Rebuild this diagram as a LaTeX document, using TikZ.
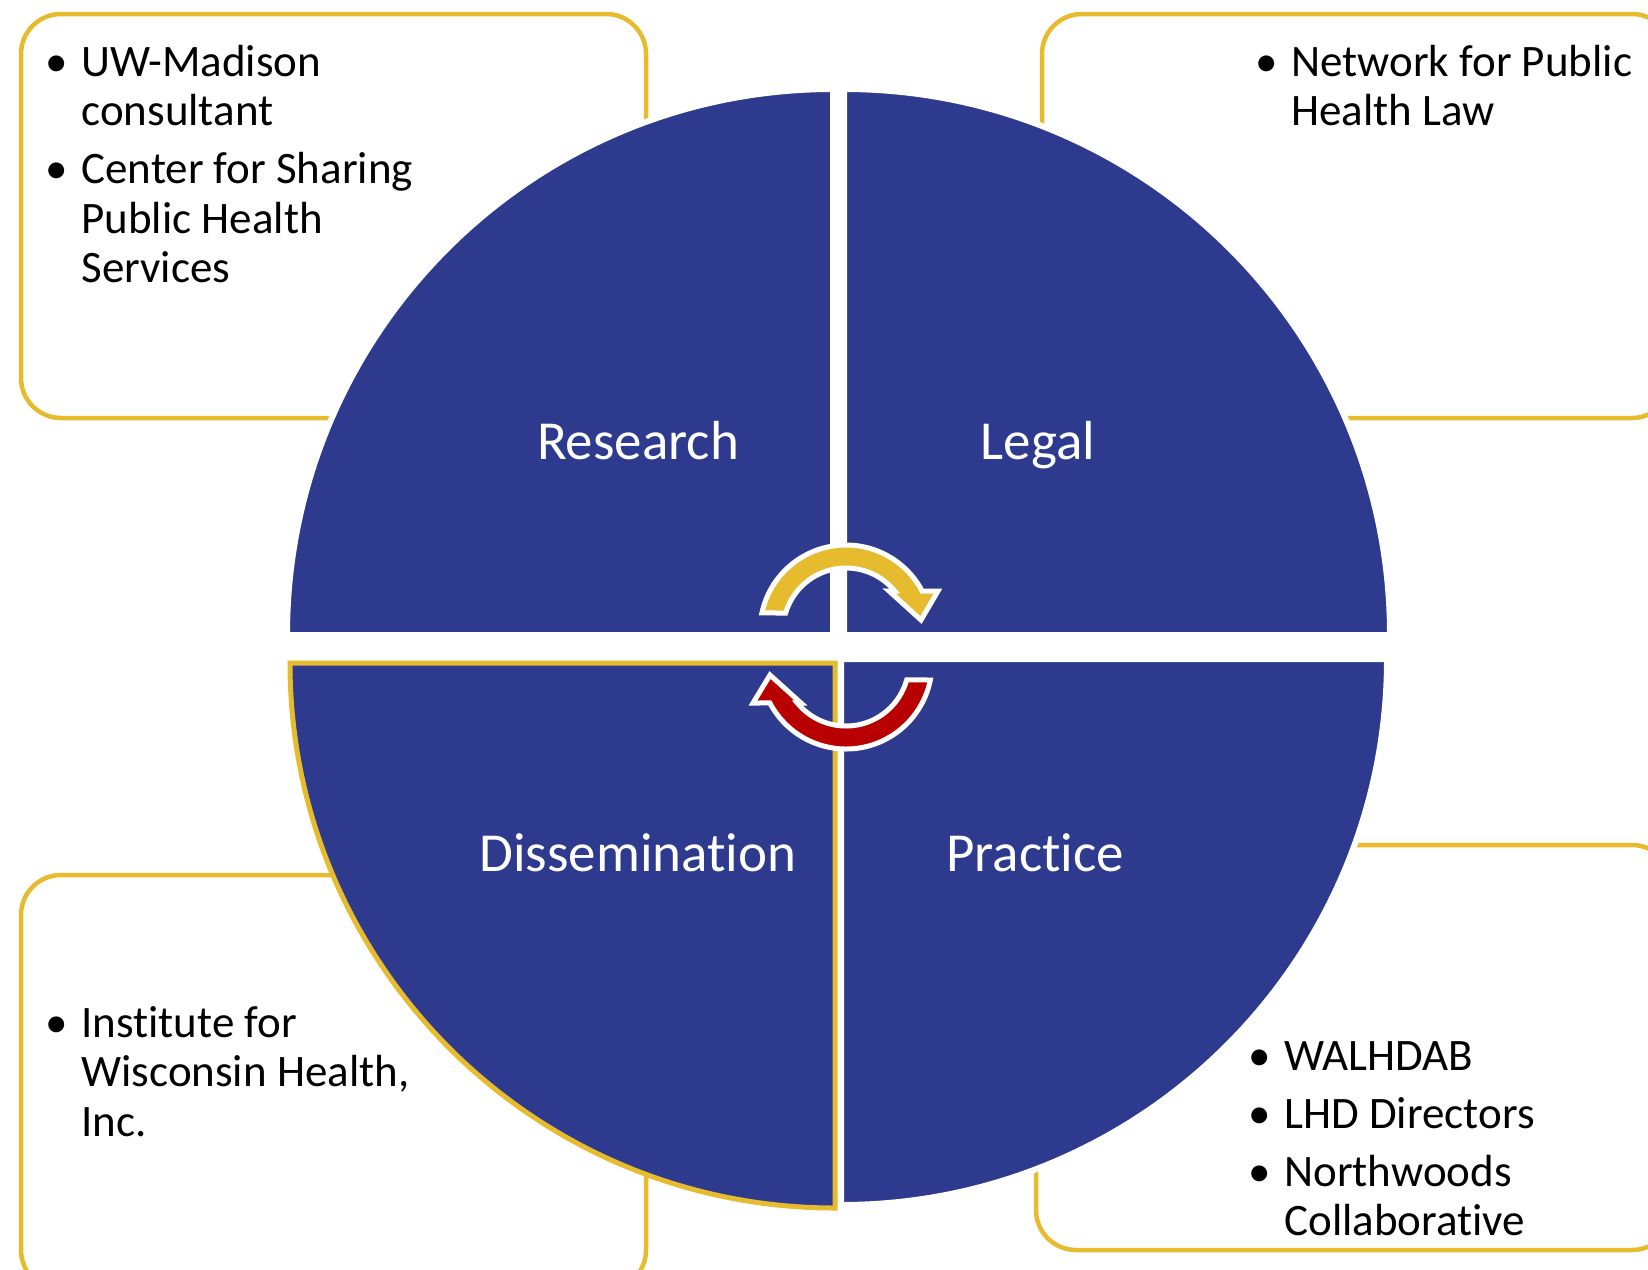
\documentclass[tikz,border=0pt]{standalone}
\usepackage{fontspec}
\setmainfont{Carlito}[Ligatures={NoCommon,NoContextual}, Contextuals=NoAlternate]
\usepackage{tikz}
\usetikzlibrary{shapes,arrows}

\definecolor{quadblue}{RGB}{45,58,142}
\definecolor{gold}{RGB}{230,188,46}
\definecolor{darkred}{RGB}{185,0,0}

\tikzstyle{infobox} = [rounded corners=20pt, draw=gold, line width=2.25pt]
\tikzstyle{quadrant} = [fill=quadblue, draw=white, line width=3pt]
\tikzstyle{quadlabel} = [text=white, font=\fontsize{27.5}{33}\selectfont, anchor=base, inner sep=0pt]
\tikzstyle{itemtext} = [font=\fontsize{22.5}{24.75}\selectfont, anchor=base west, inner sep=0pt]
\tikzstyle{cyclearrow} = [draw=white, line width=2.5pt, line join=miter]

\newcommand{\bul}{\llap{\textbullet\hspace{6.75pt}}}
\newcommand{\itemlist}[1]{\begin{tabular}[t]{@{}l@{}}#1\end{tabular}}
% keeps t and i apart (the font joins them otherwise)
\newcommand{\nolig}{\kern0pt}

\begin{document}
\begin{tikzpicture}[x=0.5pt, y=0.5pt]
\useasboundingbox (0,0) rectangle (1648,-1269);
\clip (0,0) rectangle (1648,-1269);
\fill[white] (0,0) rectangle (1648,-1269);

% partner boxes behind the wheel
\draw[infobox] (21,-14) rectangle (646,-418);
\draw[infobox] (1042,-14) rectangle (1672,-418);
\draw[infobox] (21,-875) rectangle (646,-1290);
\draw[infobox] (1036,-845) rectangle (1672,-1250);

% the four quarters
\draw[quadrant] (833,-635) -- (287,-635) arc[start angle=180, end angle=90, radius=546] -- cycle;
\draw[quadrant] (844,-635) -- (844,-89) arc[start angle=90, end angle=0, radius=546] -- cycle;
\draw[quadrant, draw=gold, line width=2.5pt] (835,-663) -- (290,-663) arc[start angle=180, end angle=270, radius=545] -- cycle;
\draw[quadrant] (841,-659) -- (1387,-659) arc[start angle=0, end angle=-90, radius=546] -- cycle;

\node (research) [quadlabel] at (638,-459) {Research};
\node (legal) [quadlabel] at (1038,-459) {Legal};
\node (dissemination) [quadlabel] at (638,-871) {Disseminat\nolig ion};
\node (practice) [quadlabel] at (1035,-871) {Pract\nolig ice};

% cycle arrows in the middle
\begin{scope}[shift={(846,-631)}]
\filldraw[cyclearrow, fill=gold] (167.9:86) arc[start angle=167.9, end angle=27.7, radius=86] -- (92,40) -- (75,11) -- (43,40) -- (39.4:63) arc[start angle=39.4, end angle=163.4, radius=63] -- cycle;
\end{scope}
\begin{scope}[shift={(846,-663)}]
\filldraw[cyclearrow, fill=darkred] (-11.4:86) arc[start angle=-11.4, end angle=-152.3, radius=86] -- (-93,-40) -- (-76,-12) -- (-45,-40) -- (-140.6:63) arc[start angle=-140.6, end angle=-15.6, radius=63] -- cycle;
\end{scope}

% partner lists
\node (researchlist) [itemtext] at (81,-76) {\itemlist{\bul UW-Madison\\consultant\\[4.25pt]\bul Center for Sharing\\Public Health\\Services}};
\node (legallist) [itemtext] at (1291,-76) {\itemlist{\bul Network for Public\\Health Law}};
\node (disslist) [itemtext] at (81,-1037) {\itemlist{\bul Inst\nolig itute for\\Wisconsin Health,\\Inc.}};
\node (practicelist) [itemtext] at (1284,-1070) {\itemlist{\bul WALHDAB\\[4.25pt]\bul LHD Directors\\[4.25pt]\bul Northwoods\\Collaborat\nolig ive}};
\end{tikzpicture}
\end{document}
